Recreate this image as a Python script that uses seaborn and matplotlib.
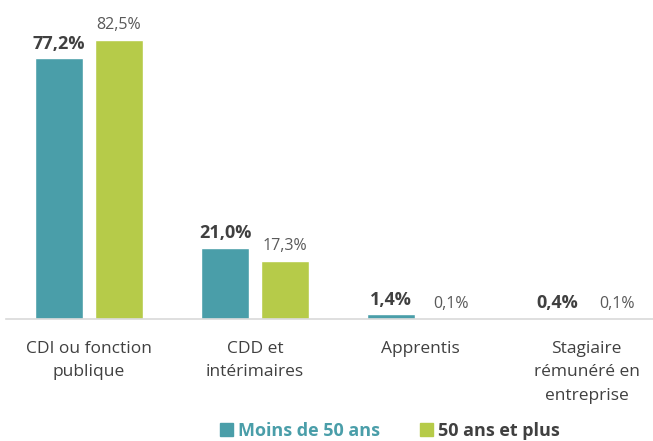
import matplotlib
matplotlib.use("Agg")
import matplotlib.pyplot as plt
from matplotlib.patches import Patch
import seaborn as sns
import pandas as pd

categories = ["CDI ou fonction\npublique", "CDD et\nintérimaires", "Apprentis",
              "Stagiaire\nrémunéré en\nentreprise"]
groups = ["Moins de 50 ans", "50 ans et plus"]
moins_50 = [77.2, 21.0, 1.4, 0.4]
plus_50 = [82.5, 17.3, 0.1, 0.1]
colors = ["#4A9EA9", "#B6CB49"]

df = pd.DataFrame({
    "cat": categories * 2,
    "groupe": [groups[0]] * 4 + [groups[1]] * 4,
    "val": moins_50 + plus_50,
})

sns.set_style("white")
plt.rcParams["font.family"] = ["Open Sans", "DejaVu Sans"]

fig = plt.figure(figsize=(6.53, 4.41), dpi=100)
ax = fig.add_axes([6 / 653, 122 / 441, 647 / 653, 319 / 441])

sns.barplot(data=df, x="cat", y="val", hue="groupe", palette=colors,
            width=0.72, gap=0.2, legend=False, ax=ax, saturation=1)

fmt = lambda v: f"{v:.1f}%".replace(".", ",")
ax.bar_label(ax.containers[0], labels=[fmt(v) for v in moins_50], padding=4,
             fontsize=13, fontweight="bold", color="#404040")
ax.bar_label(ax.containers[1], labels=[fmt(v) for v in plus_50], padding=5,
             fontsize=11.5, color="#595959")

ax.set_xlim(-0.50, 3.40)
ax.set_ylim(0, 94.4)
ax.set_xlabel("")
ax.set_ylabel("")
ax.set_yticks([])
for s in ["top", "right", "left"]:
    ax.spines[s].set_visible(False)
ax.spines["bottom"].set_color("#D9D9D9")
ax.spines["bottom"].set_linewidth(1.2)

ax.tick_params(axis="x", which="major", length=0, labelsize=12.5,
               labelcolor="#404040", pad=16)
for t in ax.get_xticklabels():
    t.set_linespacing(1.6)
ax.set_xticks([0.5, 1.5, 2.5], minor=True)
ax.tick_params(axis="x", which="minor", length=5, color="#D9D9D9", width=1.2)

handles = [Patch(color=c) for c in colors]
leg = fig.legend(handles, groups, loc="center", ncol=2, frameon=False,
                 handlelength=0.7, handleheight=0.7, handletextpad=0.3,
                 columnspacing=2.2, prop={"size": 13, "weight": "bold"},
                 bbox_to_anchor=(390 / 653, 1 - 431 / 441),
                 bbox_transform=fig.transFigure)
leg.get_texts()[0].set_color("#4A9EA9")
leg.get_texts()[1].set_color("#404040")

fig.savefig("out.png", dpi=100)
